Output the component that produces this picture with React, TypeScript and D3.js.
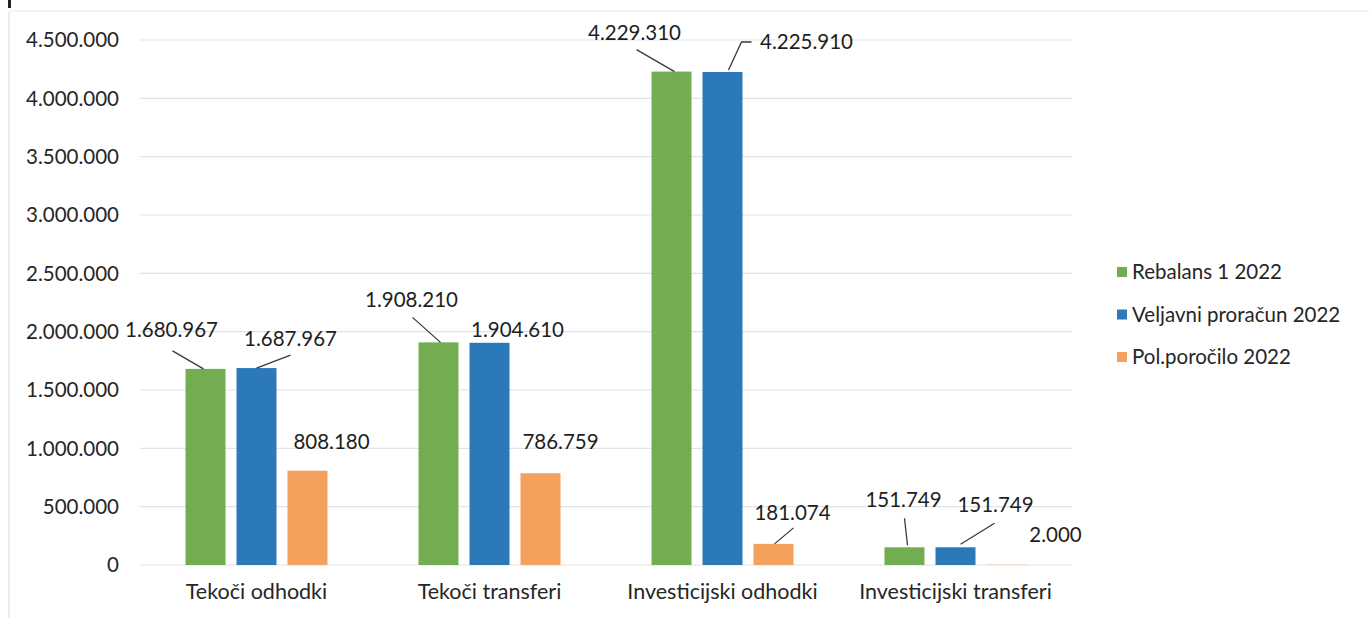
import { useEffect, useRef } from 'react';
import * as d3 from 'd3';

const categories = ['Tekoči odhodki', 'Tekoči transferi', 'Investicijski odhodki', 'Investicijski transferi'];
const seriesNames = ['Rebalans 1 2022', 'Veljavni proračun 2022', 'Pol.poročilo 2022'];
const rebalans = [1680967, 1908210, 4229310, 151749];
const veljavni = [1687967, 1904610, 4225910, 151749];
const polPorocilo = [808180, 786759, 181074, 2000];
const yTicks = [0, 500000, 1000000, 1500000, 2000000, 2500000, 3000000, 3500000, 4000000, 4500000];

const colors = ['#72ad52', '#2b79b8', '#f5a15e'];

// manual label placement (Excel moved labels), relative to bar top centre
const labelOffsets = [
  [[-34, -39], [34, -29], [24, -29]],
  [[-27, -43], [28, -13], [20, -31]],
  [[-37, -39], [84, -30], [19, -31]],
  [[-1, -47], [40, -42], [49, -30]],
];
// leader lines, points relative to bar top centre
const leaders = [
  [[[-33, -18], [-2, 0]], [[34, -13], [0, 0]], null],
  [[[-26, -25], [2, 0]], null, null],
  [[[-35, -22], [3, 0]], [[29, -30], [19, -30], [6, -2]], [[20, -16], [1, 0]]],
  [[[0, -29], [3, -2]], [[39, -24], [5, -3]], null],
];

const fmt = (v: number) => d3.format(',')(v).replace(/,/g, '.');

const Chart = () => {
  const svgRef = useRef<SVGSVGElement>(null);

  useEffect(() => {
    document.body.style.margin = '0';
    const svg = d3.select(svgRef.current);
    svg.selectAll('*').remove();

    const font = 'Lato, "Open Sans", sans-serif';
    const plot = { left: 140, right: 1072, top: 40, bottom: 565 };

    const x = d3.scaleBand<string>().domain(categories).range([plot.left, plot.right]).padding(0);
    const xs = d3.scaleBand<number>().domain([0, 1, 2]).range([-71, 71]).paddingInner(0.216).paddingOuter(0);
    const y = d3.scaleLinear().domain([0, 4500000]).range([plot.bottom, plot.top]);

    // frame remnants from scan
    svg.append('line').attr('x1', 9).attr('x2', 9).attr('y1', 12).attr('y2', 618)
      .attr('stroke', '#e6e6e6').attr('stroke-width', 1.5);
    svg.append('line').attr('x1', 9).attr('x2', 1369).attr('y1', 11).attr('y2', 11)
      .attr('stroke', '#efefef').attr('stroke-width', 1.5);
    svg.append('rect').attr('x', 8).attr('y', 0).attr('width', 3).attr('height', 8).attr('fill', '#222');

    // gridlines
    svg.append('g').selectAll('line').data(yTicks).enter().append('line')
      .attr('x1', plot.left).attr('x2', plot.right)
      .attr('y1', (d) => y(d)).attr('y2', (d) => y(d))
      .attr('stroke', '#e2e2e2').attr('stroke-width', 1.2);

    // y tick labels
    svg.append('g').selectAll('text').data(yTicks).enter().append('text')
      .attr('x', 119).attr('y', (d) => y(d)).attr('dy', '0.35em')
      .attr('text-anchor', 'end')
      .style('font-family', font).style('font-size', '20.5px').style('fill', '#262626')
      .text((d) => fmt(d));

    // category labels
    svg.append('g').selectAll('text').data(categories).enter().append('text')
      .attr('x', (d) => x(d)! + x.bandwidth() / 2).attr('y', 591).attr('dy', '0.35em')
      .attr('text-anchor', 'middle')
      .style('font-family', font).style('font-size', '21.5px').style('fill', '#262626')
      .text((d) => d);

    const series = [rebalans, veljavni, polPorocilo];

    series.forEach((vals, si) => {
      vals.forEach((v, ci) => {
        const cx = x(categories[ci])! + x.bandwidth() / 2 + xs(si)! + xs.bandwidth() / 2;
        const top = y(v);
        svg.append('rect')
          .attr('x', cx - xs.bandwidth() / 2).attr('y', top)
          .attr('width', xs.bandwidth()).attr('height', plot.bottom - top)
          .attr('fill', colors[si]);

        const lead = leaders[ci][si];
        if (lead) {
          svg.append('path')
            .attr('d', d3.line()(lead.map(([dx, dy]) => [cx + dx, top + dy] as [number, number])))
            .attr('fill', 'none').attr('stroke', '#3a3a3a').attr('stroke-width', 1.3);
        }

        const [ldx, ldy] = labelOffsets[ci][si];
        svg.append('text')
          .attr('x', cx + ldx).attr('y', top + ldy).attr('dy', '0.35em')
          .attr('text-anchor', 'middle')
          .style('font-family', font).style('font-size', '20.5px').style('fill', '#1e1e1e')
          .text(fmt(v));
      });
    });

    // legend
    const legend = svg.append('g').selectAll('g').data(seriesNames).enter().append('g')
      .attr('transform', (d, i) => `translate(1117,${272 + i * 42.5})`);
    legend.append('rect').attr('x', 0).attr('y', -5).attr('width', 10).attr('height', 10)
      .attr('fill', (d, i) => colors[i]);
    legend.append('text').attr('x', 15).attr('y', 0).attr('dy', '0.35em')
      .style('font-family', font).style('font-size', '20.5px').style('fill', '#262626')
      .text((d) => d);
  }, []);

  return <svg ref={svgRef} width={1369} height={618} style={{ display: 'block', background: '#fff' }}></svg>;
};

export default function App() {
  return <Chart />;
}
